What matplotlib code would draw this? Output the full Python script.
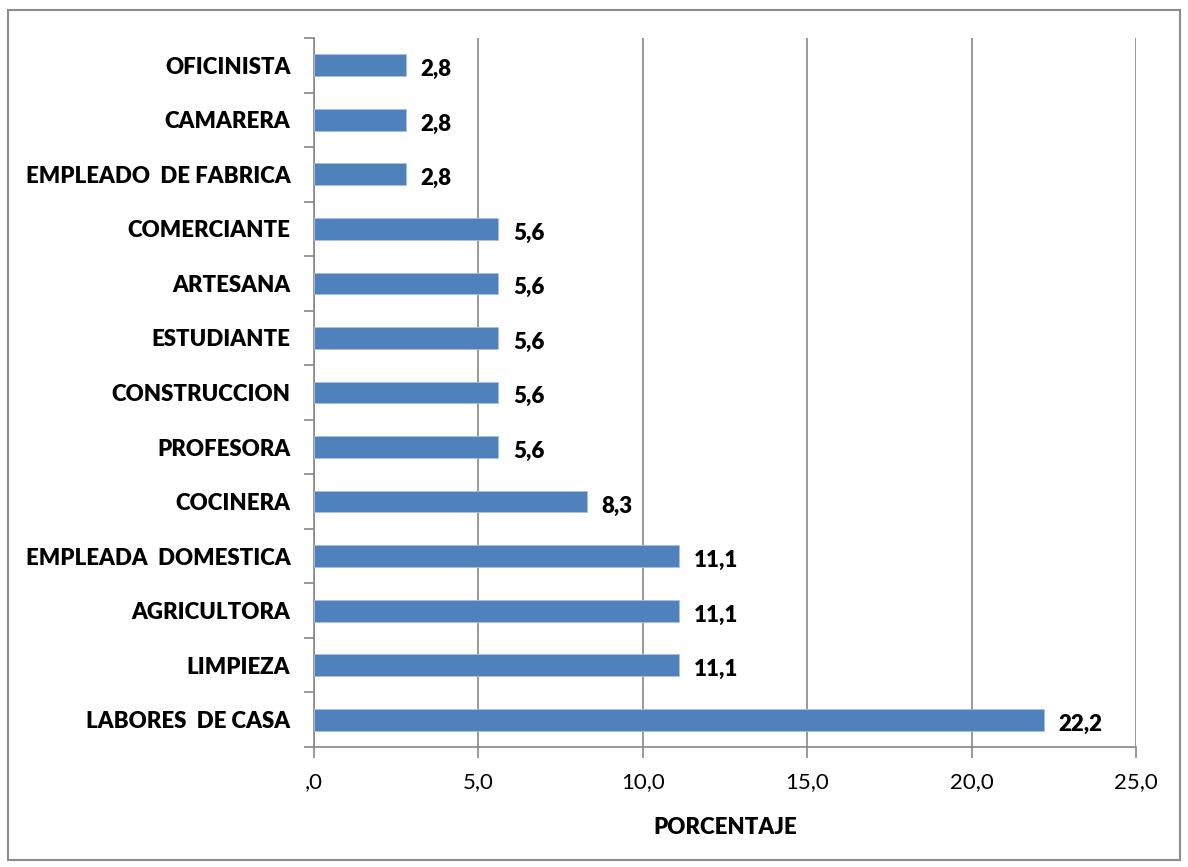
import matplotlib
matplotlib.use("Agg")
import matplotlib.pyplot as plt
from matplotlib.patches import Rectangle
import numpy as np

plt.rcParams['font.family'] = ['Lato', 'DejaVu Sans']

# Occupations (bottom to top) and their share in percent
categories = [
    "LABORES  DE CASA", "LIMPIEZA", "AGRICULTORA", "EMPLEADA  DOMESTICA",
    "COCINERA", "PROFESORA", "CONSTRUCCION", "ESTUDIANTE", "ARTESANA",
    "COMERCIANTE", "EMPLEADO  DE FABRICA", "CAMARERA", "OFICINISTA",
]
values = [22.2, 11.1, 11.1, 11.1, 8.3, 5.6, 5.6, 5.6, 5.6, 5.6, 2.8, 2.8, 2.8]
xticks = [0, 5, 10, 15, 20, 25]
xtick_labels = [",0", "5,0", "10,0", "15,0", "20,0", "25,0"]
xlabel = "PORCENTAJE"

bar_color = "#4F81BD"
grid_color = "#888888"
fs = 16

fig = plt.figure(figsize=(11.88, 8.67), dpi=100)
fig.patch.set_facecolor("white")
fig.add_artist(Rectangle((8 / 1188, 1 - 860 / 867), 1172 / 1188, 850 / 867,
                         transform=fig.transFigure, fill=False,
                         edgecolor="#8c8c8c", linewidth=1.5))

ax = fig.add_axes([314 / 1188, 1 - 747 / 867, (1136 - 314) / 1188, (747 - 38) / 867])
y = np.arange(len(categories))
ax.barh(y, values, height=0.4, color=bar_color, edgecolor="#a9c0e0",
        linewidth=0.6, zorder=3)

for yi, v in zip(y, values):
    ax.text(v + 0.45, yi - 0.08, f"{v:.1f}".replace(".", ","), va="center",
            ha="left", fontsize=fs, fontweight="heavy", color="black", zorder=4)

ax.set_xlim(0, 25)
ax.set_ylim(-0.5, len(categories) - 0.5)
ax.set_xticks(xticks)
ax.set_xticklabels(xtick_labels, fontsize=fs)
ax.set_yticks(y)
ax.set_yticklabels(categories, fontsize=fs, fontweight="heavy")
ax.set_yticks(np.arange(-0.5, len(categories)), minor=True)
ax.tick_params(axis="y", which="major", length=0, pad=17)
ax.tick_params(axis="y", which="minor", length=7, width=1.2, color=grid_color)
ax.tick_params(axis="x", length=8, width=1.2, color=grid_color, pad=10)

ax.xaxis.grid(True, color=grid_color, linewidth=1.2, zorder=0)
ax.set_axisbelow(True)
for s in ("top", "right"):
    ax.spines[s].set_visible(False)
for s in ("left", "bottom"):
    ax.spines[s].set_color(grid_color)
    ax.spines[s].set_linewidth(1.2)

ax.set_xlabel(xlabel, fontsize=fs, fontweight="heavy", labelpad=18)

fig.savefig("out.png", dpi=100, facecolor="white")
